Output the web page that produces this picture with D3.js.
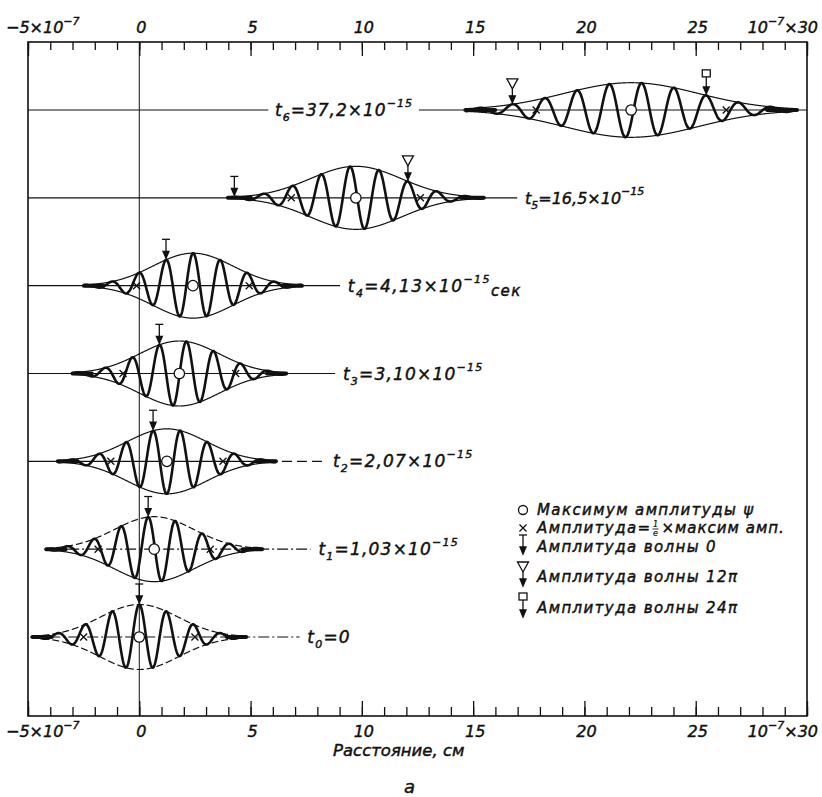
<!DOCTYPE html>
<html><head><meta charset="utf-8">
<script src="https://cdn.jsdelivr.net/npm/d3@7"></script>
<style>
body{margin:0;background:#fff}
text{font-family:"DejaVu Sans","Liberation Sans",sans-serif;font-style:italic;fill:#111;stroke:#111;stroke-width:0.45px}
</style>
</head><body>
<svg id="c" width="822" height="797"></svg>
<script>
// ---------- data ----------
const rowIndex    = [0, 1, 2, 3, 4, 5, 6];
const timeValues  = ["0", "1,03", "2,07", "3,10", "4,13", "16,5", "37,2"];
const timeUnits   = ["", "", "", "", "сек", "", ""];
const centers     = [0, 0.67, 1.24, 1.8, 2.41, 9.73, 22.1];      // max of |psi|, 10^-7 cm
const widths      = [2.5, 2.52, 2.52, 2.53, 2.53, 2.9, 4.27];     // 1/e half width
const amplitudes  = [1, 1, 1, 1, 1, 0.97, 0.84];
const halfSpans   = [4.8, 4.85, 4.9, 4.8, 4.9, 5.75, 7.45];
const phaseZero   = [0, 0.4, 0.62, 0.9, 1.2, 4.27, 8.05];         // position of phase 0
const wavelengths = [1.22, 1.22, 1.22, 1.22, 1.22, 1.30, 1.452];
const phaseMarks  = [[0], [0], [0], [0], [0], [0, 12], [12, 24]]; // multiples of pi
const axisMinor   = d3.range(-5, 31, 1);
const axisMajor   = d3.range(-5, 31, 5);
const tickLabels  = ["−5×10|−7", "0", "5", "10", "15", "20", "25", "10|−7|×30"];
const legendTexts = ["Максимум амплитуды ψ", "Амплитуда=|×максим амп.", "Амплитуда волны 0", "Амплитуда волны 12π", "Амплитуда волны 24π"];
const axisTitle   = "Расстояние, см";
const caption     = "а";

// ---------- layout ----------
const labelAt      = [7.55, 8.05, 8.7, 9.15, 9.37, 17.33, 6.1];  // label start (data units)
const labelSpacing = [1.2, 1.2, 1.2, 1.2, 1.4, 0, 1.0];
const baseStart    = [-4.9, -4.05, -5, -5, -5, -5, -5];

const svg = d3.select("#c");
const x = d3.scaleLinear().domain([-5, 30]).range([28, 807]);
const yRow = d3.scaleLinear().domain([0, 6]).range([637, 110]);
const amp = d3.scaleLinear().domain([0, 1]).range([0, 32.5]);
const yTop = 42, yBottom = 716;
const ink = "#111";

// frame
svg.append("rect").attr("x", x(-5)).attr("y", yTop).attr("width", x(30) - x(-5)).attr("height", yBottom - yTop)
  .attr("fill", "none").attr("stroke", ink).attr("stroke-width", 1.6);

// ticks (inside)
function ticks(axisFn, y, vals, size) {
  const g = svg.append("g").attr("transform", `translate(0,${y})`)
    .call(axisFn(x).tickValues(vals).tickSize(size).tickFormat(""));
  g.select(".domain").remove();
  g.selectAll("line").attr("stroke", ink).attr("stroke-width", 1.3);
}
ticks(d3.axisBottom, yTop, axisMinor, 8);
ticks(d3.axisBottom, yTop, axisMajor, 14);
ticks(d3.axisTop, yBottom, axisMinor, 9);
ticks(d3.axisTop, yBottom, axisMajor, 15);

// tick labels
function tickLabel(y) {
  axisMajor.forEach((v, i) => {
    const parts = tickLabels[i].split("|");
    const t = svg.append("text").attr("y", y).attr("font-size", 16);
    if (i === 0) {
      t.attr("x", 6).attr("text-anchor", "start");
      t.append("tspan").text(parts[0]);
      t.append("tspan").attr("font-size", 11).attr("dy", -8).text(parts[1]);
    } else if (i === axisMajor.length - 1) {
      t.attr("x", 818).attr("text-anchor", "end");
      t.append("tspan").text(parts[0]);
      t.append("tspan").attr("font-size", 11).attr("dy", -8).text(parts[1]);
      t.append("tspan").attr("dy", 8).text(parts[2]);
    } else {
      t.attr("x", x(v) + 2).attr("text-anchor", "middle").text(parts[0]);
    }
  });
}
tickLabel(33);
tickLabel(737);

// axis title + caption
svg.append("text").attr("x", 333).attr("y", 756).attr("font-size", 16.5).text(axisTitle);
svg.append("text").attr("x", 404).attr("y", 793).attr("font-size", 18).text(caption);

// zero line
svg.append("line").attr("x1", x(0)).attr("x2", x(0)).attr("y1", yTop).attr("y2", yBottom)
  .attr("stroke", ink).attr("stroke-width", 1);

// ---------- packets ----------
function env(i, u) { return amplitudes[i] * Math.exp(-Math.pow((u - centers[i]) / widths[i], 2)); }
function wave(i, u) { return env(i, u) * Math.cos(2 * Math.PI * (u - phaseZero[i]) / wavelengths[i]); }

function marker(g, type, px, tipY) {
  const s = g.append("g").attr("stroke", ink).attr("stroke-width", 1.3).attr("fill", "none");
  let stemTop;
  if (type === 0) {
    s.append("line").attr("x1", px - 4).attr("x2", px + 4).attr("y1", tipY - 19).attr("y2", tipY - 19);
    stemTop = tipY - 19;
  } else if (type === 12) {
    s.append("path").attr("d", `M${px - 5.5},${tipY - 24}L${px + 5.5},${tipY - 24}L${px},${tipY - 14}Z`).attr("fill", "#fff");
    stemTop = tipY - 14;
  } else {
    s.append("rect").attr("x", px - 4).attr("y", tipY - 24).attr("width", 8).attr("height", 7).attr("fill", "#fff");
    stemTop = tipY - 17;
  }
  s.append("line").attr("x1", px).attr("x2", px).attr("y1", stemTop).attr("y2", tipY - 5);
  s.append("path").attr("d", `M${px - 3},${tipY - 7}L${px + 3},${tipY - 7}L${px},${tipY}Z`).attr("fill", ink);
}

function cross(g, px, py) {
  g.append("path").attr("d", `M${px - 3.5},${py - 3.5}L${px + 3.5},${py + 3.5}M${px - 3.5},${py + 3.5}L${px + 3.5},${py - 3.5}`)
    .attr("stroke", ink).attr("stroke-width", 1.3);
}

rowIndex.forEach(i => {
  const g = svg.append("g");
  const y0 = yRow(i);
  const c = centers[i], h = halfSpans[i];
  const lab = labelAt[i];
  const dashed = i <= 1;

  // baseline
  const bl = g.append("g").attr("stroke", ink).attr("stroke-width", 1.1);
  const leftEnd = i === 6 ? lab - 0.3 : lab - 0.35;
  bl.append("line").attr("x1", x(baseStart[i])).attr("x2", x(i === 2 ? c + h : leftEnd))
    .attr("y1", y0).attr("y2", y0).attr("stroke-dasharray", dashed ? "11,3,2,3" : null);
  if (i === 2) {
    bl.append("line").attr("x1", x(c + h) + 6).attr("x2", x(leftEnd)).attr("y1", y0).attr("y2", y0)
      .attr("stroke-dasharray", "10,5");
  }

  const us = d3.range(c - h, c + h + 0.0001, 0.02);
  const line = d3.line().x(d => x(d[0])).y(d => d[1]);
  // envelope
  g.append("path").attr("d", line(us.map(u => [u, y0 - amp(env(i, u))])))
    .attr("fill", "none").attr("stroke", ink).attr("stroke-width", 1.2).attr("stroke-dasharray", dashed ? "7,3" : null);
  g.append("path").attr("d", line(us.map(u => [u, y0 + amp(env(i, u))])))
    .attr("fill", "none").attr("stroke", ink).attr("stroke-width", 1.2).attr("stroke-dasharray", i === 0 ? "7,3" : null);
  // thick tails
  [[c - h, c - 0.82 * h], [c + 0.82 * h, c + h]].forEach(([a, b]) => {
    g.append("line").attr("x1", x(a)).attr("x2", x(b)).attr("y1", y0).attr("y2", y0)
      .attr("stroke", ink).attr("stroke-width", 4).attr("stroke-linecap", "round");
  });
  // carrier
  g.append("path").attr("d", line(us.map(u => [u, y0 - amp(wave(i, u))])))
    .attr("fill", "none").attr("stroke", ink).attr("stroke-width", 2.6).attr("stroke-linejoin", "round");

  // crosses at 1/e
  cross(g, x(c - widths[i]), y0);
  cross(g, x(c + widths[i]), y0);
  // max circle
  g.append("circle").attr("cx", x(c)).attr("cy", y0).attr("r", 5.2)
    .attr("fill", "#fff").attr("stroke", ink).attr("stroke-width", 1.3);

  // phase markers
  phaseMarks[i].forEach(n => {
    const u = phaseZero[i] + (n / 2) * wavelengths[i];
    marker(g, n, x(u), y0 - amp(wave(i, u)) - 1.5);
  });

  // label
  const fs = i === 5 ? 16 : 17;
  const t = g.append("text").attr("x", x(lab)).attr("y", y0 + 6).attr("font-size", fs)
    .attr("letter-spacing", labelSpacing[i]);
  t.append("tspan").text("t");
  t.append("tspan").attr("font-size", 11).attr("dy", 5).text(String(i));
  if (i === 0) {
    t.append("tspan").attr("dy", -5).text("=" + timeValues[i]);
  } else {
    t.append("tspan").attr("dy", -5).text("=" + timeValues[i] + "×10");
    t.append("tspan").attr("font-size", 11).attr("dy", -9).text("−15");
    if (timeUnits[i]) t.append("tspan").attr("font-size", 15).attr("dy", 13).text(timeUnits[i]);
  }
  if (i === 6) {
    const w = t.node().getComputedTextLength();
    bl.append("line").attr("x1", x(lab) + w + 6).attr("x2", x(30)).attr("y1", y0).attr("y2", y0);
  }
});

// ---------- legend ----------
const lg = svg.append("g");
const legendY = [510, 528, 547, 577, 608];
const lx = 523, tx = 537;
legendTexts.forEach((s, k) => {
  const yy = legendY[k];
  if (k === 0) lg.append("circle").attr("cx", lx).attr("cy", yy).attr("r", 4.5).attr("fill", "#fff").attr("stroke", ink).attr("stroke-width", 1.3);
  if (k === 1) cross(lg, lx, yy);
  if (k === 2) marker(lg, 0, lx, yy + 7);
  if (k === 3) marker(lg, 12, lx, yy + 9);
  if (k === 4) marker(lg, 24, lx, yy + 9);
  const parts = s.split("|");
  const t = lg.append("text").attr("x", tx).attr("y", yy + 5).attr("font-size", 15).attr("letter-spacing", 1.4).text(parts[0]);
  if (parts.length > 1) {
    const w = t.node().getComputedTextLength();
    const fx = tx + w + 4;
    lg.append("text").attr("x", fx).attr("y", yy - 1).attr("font-size", 8).attr("text-anchor", "middle").style("stroke-width", "0.2px").text("1");
    lg.append("line").attr("x1", fx - 3).attr("x2", fx + 3).attr("y1", yy + 1).attr("y2", yy + 1).attr("stroke", ink).attr("stroke-width", 0.9);
    lg.append("text").attr("x", fx).attr("y", yy + 8).attr("font-size", 8).attr("text-anchor", "middle").style("stroke-width", "0.2px").text("e");
    lg.append("text").attr("x", fx + 6).attr("y", yy + 5).attr("font-size", 15).attr("letter-spacing", 1.0).text(parts[1]);
  }
});
</script>
</body></html>
